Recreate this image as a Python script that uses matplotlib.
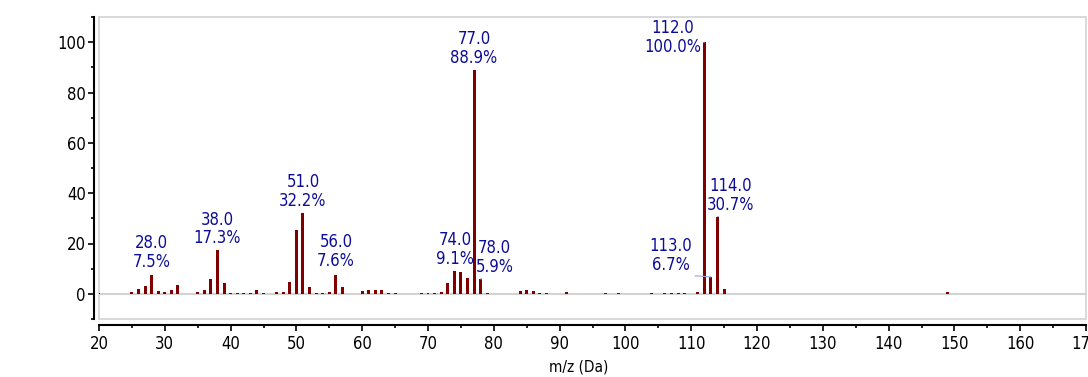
import numpy as np
import matplotlib
matplotlib.use('Agg')
import matplotlib.pyplot as plt
from matplotlib.patches import Rectangle

# spectrum peaks: m/z and relative intensity (%)
mz = [20, 25, 26, 27, 28, 29, 30, 31, 32, 35, 36, 37, 38, 39, 40, 41, 42, 43,
      44, 45, 47, 48, 49, 50, 51, 52, 53, 54, 55, 56, 57, 60, 61, 62, 63, 64,
      65, 69, 70, 71, 72, 73, 74, 75, 76, 77, 78, 79, 84, 85, 86, 87, 88, 91,
      97, 99, 104, 106, 107, 108, 109, 111, 112, 113, 114, 115, 149]
intensity = [0.3, 0.8, 2.1, 3.0, 7.5, 1.1, 0.6, 1.5, 3.7, 0.7, 1.4, 6.0, 17.3,
             4.2, 0.5, 0.5, 0.5, 0.5, 1.7, 0.3, 0.7, 0.7, 4.6, 25.3, 32.2, 2.8,
             0.4, 0.4, 0.8, 7.6, 2.8, 1.0, 1.6, 1.4, 1.4, 0.4, 0.3, 0.3, 0.3,
             0.4, 0.7, 4.3, 9.1, 8.6, 6.2, 88.9, 5.9, 0.3, 1.0, 1.4, 1.3, 0.5,
             0.4, 0.6, 0.5, 0.3, 0.3, 0.3, 0.3, 0.3, 0.3, 0.8, 100.0, 6.7, 30.7,
             2.1, 0.8]
labelled = [28, 38, 51, 56, 74, 77, 78, 112, 113, 114]

# label placement (pixel offset of label baseline centre from bar top)
offsets = {28: (0, 8), 38: (0, 7), 51: (0, 7), 56: (0, 9), 74: (1, 7),
           77: (0, 7), 78: (14, 7), 112: (-32, -10), 113: (-40, 7),
           114: (13, 7)}
leaders = [78, 112, 113, 114]

bar_c = '#800000'
lab_c = '#0c0c98'
grid_c = '#d3d3d3'

plt.rcParams['font.family'] = 'DejaVu Sans'
plt.rcParams['font.stretch'] = 'condensed'

fig = plt.figure(figsize=(10.88, 3.77), dpi=100)
ax = fig.add_axes([99 / 1088, 1 - 319 / 377, 987 / 1088, 302 / 377])

ax.axhline(0, color=grid_c, lw=1.5, zorder=1)
ax.bar(mz, intensity, width=0.45, color=bar_c, zorder=2)

lookup = dict(zip(mz, intensity))
for m in labelled:
    v = lookup[m]
    dx, dy = offsets[m]
    kw = {}
    if m in leaders:
        kw['arrowprops'] = dict(arrowstyle='-', color='#a0a0d0', lw=0.8,
                                shrinkA=0, shrinkB=0, relpos=(0.5, 0))
    ax.annotate('%.1f\n%.1f%%' % (m, v), xy=(m, v), xytext=(dx, dy),
                textcoords='offset pixels', ha='center', va='baseline',
                multialignment='center', color=lab_c, fontsize=12,
                linespacing=1.05, zorder=3, **kw)

ax.set_xlim(20, 170)
ax.set_ylim(-10, 110)
ax.set_xticks(np.arange(20, 171, 10))
ax.set_xticks(np.arange(25, 170, 10), minor=True)
ax.set_yticks(np.arange(0, 101, 20))
ax.set_yticks(np.arange(-10, 111, 20), minor=True)

for s in ['top', 'right']:
    ax.spines[s].set_visible(False)
ax.spines['left'].set_position(('outward', 3.6))
ax.spines['bottom'].set_position(('outward', 4.3))
for s in ['left', 'bottom']:
    ax.spines[s].set_linewidth(1.5)
ax.add_patch(Rectangle((0, 0), 1, 1, transform=ax.transAxes, fill=False,
                       ec=grid_c, lw=1.2, clip_on=False, zorder=0))

ax.tick_params(which='major', length=4.3, width=1.2, labelsize=12, pad=1.5)
ax.tick_params(which='minor', length=2.2, width=1.2)
ax.tick_params(axis='x', which='major', pad=3)

ax.set_xlabel('m/z (Da)', fontsize=11, va='center')
ax.xaxis.set_label_coords((579 - 99) / 987, -(367 - 319) / 302)

fig.savefig('out.png', dpi=100)
